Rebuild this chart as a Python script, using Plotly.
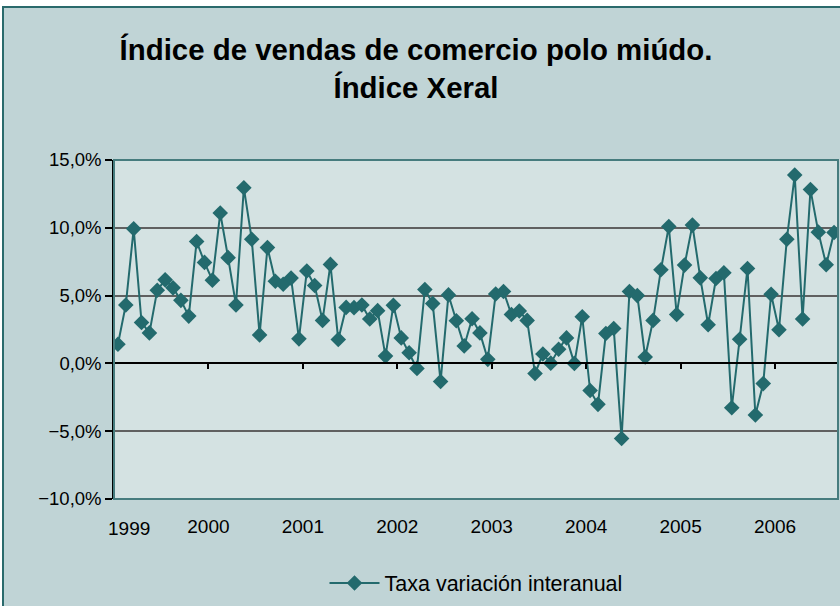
import plotly.graph_objects as go

# Monthly year-on-year change, Jan 1999 – Aug 2006 (%)
values = [
    1.41, 4.31, 9.93, 3.02, 2.25, 5.40, 6.16, 5.57, 4.65, 3.49, 8.99, 7.45,   # 1999
    6.14, 11.09, 7.80, 4.31, 12.95, 9.16, 2.10, 8.54, 6.06, 5.84, 6.29, 1.81,  # 2000
    6.81, 5.74, 3.17, 7.30, 1.76, 4.13, 4.11, 4.31, 3.27, 3.89, 0.54, 4.28,    # 2001
    1.88, 0.79, -0.37, 5.45, 4.41, -1.34, 5.05, 3.14, 1.29, 3.29, 2.25, 0.30,  # 2002
    5.12, 5.30, 3.61, 3.86, 3.17, -0.74, 0.69, 0.02, 1.04, 1.88, 0.00, 3.44,   # 2003
    -2.00, -3.02, 2.20, 2.57, -5.54, 5.30, 5.00, 0.47, 3.17, 6.91, 10.10, 3.61,  # 2004
    7.25, 10.20, 6.31, 2.85, 6.26, 6.68, -3.27, 1.78, 7.00, -3.81, -1.49, 5.10,  # 2005
    2.48, 9.16, 13.89, 3.27, 12.82, 9.68, 7.28, 9.65,                          # 2006
]
years = ["1999", "2000", "2001", "2002", "2003", "2004", "2005", "2006"]
series_name = "Taxa variación interanual"
title_text = "Índice de vendas de comercio polo miúdo.<br>Índice Xeral"

teal = "#236a6d"
font_family = "Liberation Sans, Arial, sans-serif"

months = list(range(len(values)))
boundaries = [12 * k - 0.5 for k in range(1, len(years))]

fig = go.Figure()
fig.add_trace(go.Scatter(
    x=months, y=values, mode="lines+markers", name=series_name,
    line=dict(color=teal, width=2),
    marker=dict(symbol="diamond", size=12, color=teal),
))
# helper trace to attach the axis drawn at y = 0
fig.add_trace(go.Scatter(x=[None], y=[None], xaxis="x2", showlegend=False,
                         hoverinfo="skip"))

L, R, T, B = 114, 2, 160, 107
W, H = 840, 606
pw, ph = W - L - R, H - T - B

ymin, ymax = -10, 15
zero_pos = (0 - ymin) / (ymax - ymin)

fig.update_layout(
    width=W, height=H,
    margin=dict(l=L, r=R, t=T, b=B),
    paper_bgcolor="white",
    plot_bgcolor="#d4e2e2",
    font=dict(family=font_family, size=19, color="black"),
    separators=", ",
    title=dict(text="<b>" + title_text + "</b>",
               font=dict(family=font_family, size=29.4, color="black"),
               x=(416 - L) / pw, xref="paper", xanchor="center",
               y=1 - 60 / H, yref="container", yanchor="middle"),
    xaxis=dict(range=[-0.5, len(values) - 0.5], showgrid=False, zeroline=False,
               tickvals=boundaries, ticktext=years[1:], ticks="",
               ticklabelstandoff=14, showline=False,
               tickfont=dict(size=19)),
    xaxis2=dict(range=[-0.5, len(values) - 0.5], overlaying="x", anchor="free",
                position=zero_pos, side="bottom", showgrid=False, zeroline=False,
                tickvals=boundaries, showticklabels=False, ticks="outside",
                ticklen=5, tickwidth=1.5, tickcolor="black",
                showline=True, linecolor="black", linewidth=1.5),
    yaxis=dict(range=[ymin, ymax], dtick=5, tick0=0, tickformat=".1f",
               ticksuffix="%", showgrid=True, gridcolor="#606060", gridwidth=1.5,
               zeroline=False, ticks="outside", ticklen=7, tickwidth=1.5,
               tickcolor="black", showline=True, linecolor="black",
               linewidth=1.5, tickfont=dict(size=18.5)),
    legend=dict(orientation="h", x=0.5, xanchor="center",
                y=(499 - 583) / ph, yanchor="middle", itemwidth=50,
                font=dict(size=21.5), bgcolor="rgba(0,0,0,0)"),
    showlegend=True,
)

# Chart area background and border
fig.add_shape(type="rect", xref="paper", yref="paper", layer="below",
              x0=(3 - L) / pw, x1=1.05, y0=-0.4, y1=(499 - 7) / ph,
              fillcolor="#c0d4d6", line=dict(color="#2a6a6c", width=2))
# Plot area background
fig.add_shape(type="rect", xref="paper", yref="paper", layer="below",
              x0=0, x1=1, y0=0, y1=1, fillcolor="#d4e2e2",
              line=dict(width=0))
# Plot area border
fig.add_shape(type="rect", xref="paper", yref="paper", layer="above",
              x0=0, x1=1, y0=0, y1=1, line=dict(color="#467c7e", width=2))

# First year label (offset like the original)
fig.add_annotation(text=years[0], x=(129 - L) / pw, xref="paper",
                   y=-(528 - 499) / ph, yref="paper", showarrow=False,
                   xanchor="center", yanchor="middle",
                   font=dict(family=font_family, size=19, color="black"))

fig.write_html(
    "out.html",
    config={"displayModeBar": False},
    post_script="document.body.style.margin='0';"
                "document.documentElement.style.overflow='hidden';",
)
